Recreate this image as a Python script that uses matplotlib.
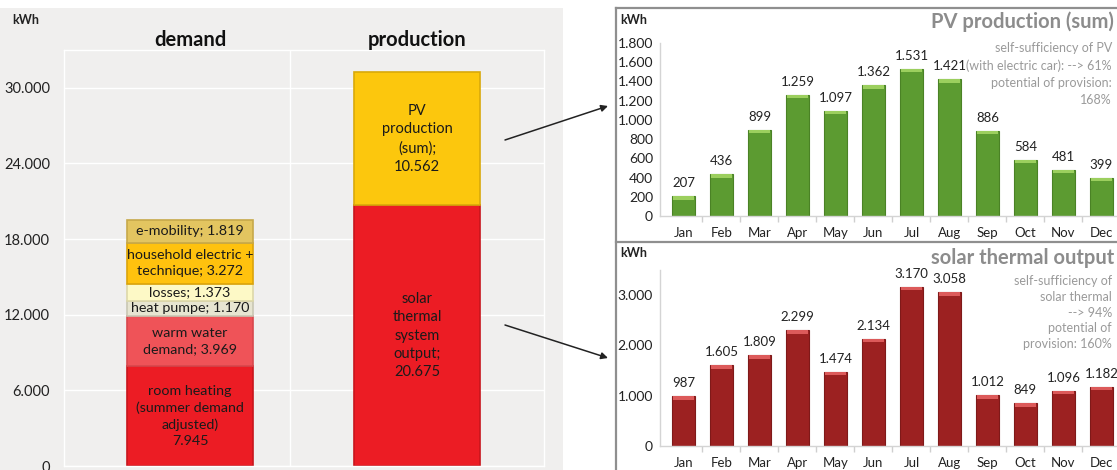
import matplotlib
matplotlib.use("Agg")
import matplotlib.pyplot as plt
from matplotlib.patches import Rectangle, FancyArrowPatch
from matplotlib.transforms import blended_transform_factory

plt.rcParams['font.family'] = ['Lato', 'DejaVu Sans']

# ---- data -------------------------------------------------------------
demand_parts = ["room heating", "warm water demand", "heat pumpe", "losses",
                "household electric + technique", "e-mobility"]
demand_values = [7945, 3969, 1170, 1373, 3272, 1819]
demand_label_fmt = ["room heating\n(summer demand\nadjusted)\n{}",
                    "warm water\ndemand; {}",
                    "heat pumpe; {}",
                    "losses; {}",
                    "household electric +\ntechnique; {}",
                    "e-mobility; {}"]
demand_colors = ["#ec1c24", "#ef5358", "#e7e5d1", "#fdf9c6", "#ffc20e", "#e3c560"]
demand_edges = ["#c8151c", "#d8474c", "#c9c7b4", "#ddd8a8", "#dba40a", "#c7a94a"]

production_parts = ["solar thermal system output", "PV production (sum)"]
production_values = [20675, 10562]
production_label_fmt = ["solar\nthermal\nsystem\noutput;\n{}",
                        "PV\nproduction\n(sum);\n{}"]
production_colors = ["#ec1c24", "#fcc70d"]
production_edges = ["#c8151c", "#d9a90a"]

columns = ["demand", "production"]

months = ["Jan", "Feb", "Mar", "Apr", "May", "Jun",
          "Jul", "Aug", "Sep", "Oct", "Nov", "Dec"]
pv_monthly = [207, 436, 899, 1259, 1097, 1362, 1531, 1421, 886, 584, 481, 399]
solar_monthly = [987, 1605, 1809, 2299, 1474, 2134, 3170, 3058, 1012, 849, 1096, 1182]

pv_note = "self-sufficiency of PV\n(with electric car): --> 61%\npotential of provision:\n168%"
solar_note = "self-sufficiency of\nsolar thermal\n--> 94%\npotential of\nprovision: 160%"


def fmt(v):
    return f"{v:,}".replace(",", ".")


W, H = 1117, 470
fig = plt.figure(figsize=(W / 100, H / 100), dpi=100)
fig.patch.set_facecolor("white")


def px_axes(x0, y0, x1, y1, **kw):
    return fig.add_axes([x0 / W, 1 - y1 / H, (x1 - x0) / W, (y1 - y0) / H], **kw)


# ---- background / frames ---------------------------------------------
bg = px_axes(0, 0, W, H, zorder=-5)
bg.set_xlim(0, W)
bg.set_ylim(H, 0)
bg.axis("off")
bg.add_patch(Rectangle((0, 8), 563, H - 8, facecolor="#f0efee", edgecolor="none"))
frame_c = "#8f8f8f"
bg.plot([616, 616], [8, H], color=frame_c, lw=1.6)
bg.plot([616, W], [8, 8], color=frame_c, lw=1.6)
bg.plot([616, W], [242, 242], color=frame_c, lw=1.6)

bg.text(12, 20, "kWh", fontsize=9, fontweight="bold", color="#222222", va="center")
bg.text(620, 20, "kWh", fontsize=9, fontweight="bold", color="#222222", va="center")
bg.text(620, 253, "kWh", fontsize=9, fontweight="bold", color="#222222", va="center")

bg.text(1114, 22, "PV production (sum)", fontsize=14.5, fontweight="bold",
        color="#8c8c8c", ha="right", va="center")
bg.text(1114, 258, "solar thermal output", fontsize=14.5, fontweight="bold",
        color="#8c8c8c", ha="right", va="center")
bg.text(1112, 42, pv_note, fontsize=9, color="#9a9a9a", ha="right", va="top",
        multialignment="right", linespacing=1.5)
bg.text(1112, 275, solar_note, fontsize=9, color="#9a9a9a", ha="right", va="top",
        multialignment="right", linespacing=1.38)

# ---- left: annual demand vs production ---------------------------------
axL = px_axes(64, 50, 544, 466)
axL.set_facecolor("#f0efee")
for s in axL.spines.values():
    s.set_color("white")
    s.set_linewidth(1)
axL.set_ylim(0, 33000)
axL.set_xlim(-0.555, 1.559)
axL.set_yticks(range(0, 30001, 6000))
axL.set_yticklabels([fmt(v) for v in range(0, 30001, 6000)])
axL.tick_params(axis="y", length=0, labelsize=10.5, pad=10, labelcolor="#222222")
axL.set_xticks([])
axL.grid(axis="y", color="white", lw=1)
axL.set_axisbelow(True)
axL.axvline(0.44, color="white", lw=1, zorder=0.5)

bar_w = 0.555
bottom = 0
for val, col, ec, lf in zip(demand_values, demand_colors, demand_edges, demand_label_fmt):
    axL.bar(0, val, bottom=bottom, width=bar_w, color=col, edgecolor=ec, lw=1.2, zorder=2)
    axL.text(0, bottom + val / 2, lf.format(fmt(val)), ha="center", va="center",
             fontsize=10.3, color="#1a1a1a", linespacing=1.4, zorder=3)
    bottom += val

bottom = 0
for val, col, ec, lf in zip(production_values, production_colors, production_edges,
                            production_label_fmt):
    axL.bar(1, val, bottom=bottom, width=bar_w, color=col, edgecolor=ec, lw=1.2, zorder=2)
    axL.text(1, bottom + val / 2, lf.format(fmt(val)), ha="center", va="center",
             fontsize=10.5, color="#1a1a1a", linespacing=1.4, zorder=3)
    bottom += val

trans = blended_transform_factory(axL.transData, axL.transAxes)
for i, name in enumerate(columns):
    axL.text(i, 1.024, name, transform=trans, ha="center", va="center",
             fontsize=14.5, fontweight="bold", color="#111111")


# ---- right: monthly panels ---------------------------------------------
def monthly_panel(box, values, ymax, ystep, color, top_color, edge):
    ax = px_axes(*box)
    ax.set_xlim(-0.618, 11.41)
    ax.set_ylim(0, ymax)
    x = list(range(len(values)))
    ax.bar(x, values, width=0.6, color=color, edgecolor=edge, lw=0.8, zorder=2)
    # bevel highlight along the top of each bar
    cap = 3.5 * ymax / (box[3] - box[1])
    ax.bar(x, [cap] * len(values), bottom=[v - cap for v in values], width=0.54,
           color=top_color, lw=0, zorder=3)
    for xi, v in zip(x, values):
        ax.annotate(fmt(v), (xi, v), xytext=(0, 5), textcoords="offset points",
                    ha="center", va="bottom", fontsize=9.5, color="#222222")
    ticks = list(range(0, ymax + 1, ystep))
    ax.set_yticks(ticks)
    ax.set_yticklabels([fmt(t) for t in ticks])
    ax.set_xticks(x)
    ax.set_xticklabels(months)
    ax.set_xticks([i + 0.5 for i in x[:-1]], minor=True)
    ax.tick_params(axis="y", length=0, labelsize=10, pad=5, labelcolor="#222222")
    ax.tick_params(axis="x", which="major", length=0, labelsize=9.5, pad=8,
                   labelcolor="#222222")
    ax.tick_params(axis="x", which="minor", length=4, color="#cfcfcf", width=1)
    for side in ("top", "right"):
        ax.spines[side].set_visible(False)
    for side in ("left", "bottom"):
        ax.spines[side].set_color("#d4d4d4")
        ax.spines[side].set_linewidth(1)
    ax.set_facecolor("none")
    return ax


monthly_panel((660, 43, 1117, 216), pv_monthly, 1800, 200,
              "#5c9b31", "#9ccf5e", "#4a8225")
monthly_panel((660, 270, 1117, 446), solar_monthly, 3500, 1000,
              "#9c2121", "#dc5a5a", "#7f1919")

# ---- connecting arrows -------------------------------------------------
fg = px_axes(0, 0, W, H, zorder=10)
fg.set_xlim(0, W)
fg.set_ylim(H, 0)
fg.axis("off")
fg.patch.set_alpha(0)
for start, end in (((505, 140), (608, 106)), ((505, 325), (608, 358))):
    fg.add_patch(FancyArrowPatch(start, end, arrowstyle="-|>", mutation_scale=10,
                                 lw=1.1, color="#222222", shrinkA=0, shrinkB=0))

fig.savefig("out.png", dpi=100)
